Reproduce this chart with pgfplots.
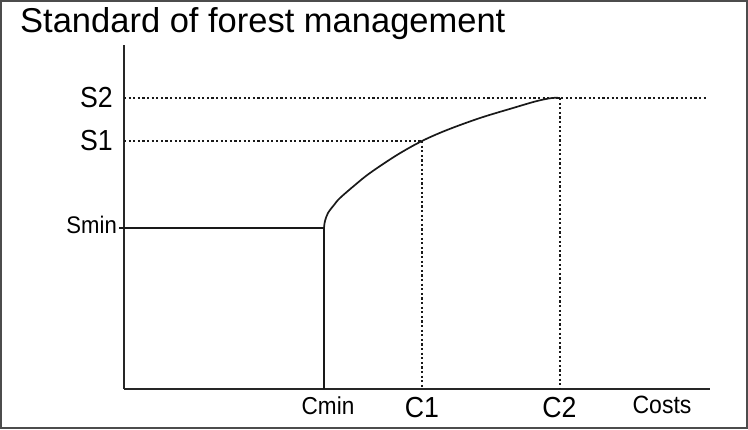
\documentclass[border=0pt]{standalone}
\usepackage{pgfplots}
\pgfplotsset{compat=1.18}
\usepackage{fontspec}
\setmainfont{Liberation Sans}
\newfontfamily\narrowfont{Liberation Sans}[FakeStretch=0.92]
\begin{document}
\begin{tikzpicture}[x=1pt,y=1pt]
\useasboundingbox (0,0) rectangle (748,429);
\draw[black!70, line width=1.6pt] (0.8,0.8) rectangle (747.2,428.2);
\node[anchor=base west, inner sep=0pt] at (20,396) {\fontsize{34.5}{34.5}\selectfont Standard of forest management};
\begin{axis}[
  at={(124pt,40pt)}, anchor=south west,
  scale only axis, width=586pt, height=344pt,
  xmin=124, xmax=710, ymin=40, ymax=384,
  axis x line=bottom, axis y line=left,
  axis line style={-, line width=1.5pt, black!85},
  ticks=none, clip=false,
]
% Smin level and Cmin vertical
\addplot[black!90, line width=1.4pt] coordinates {(119,201) (324,201) (324,40)};
% curve
\addplot[black!90, line width=1.7pt, smooth, tension=0.55] coordinates {
 (324,201) (325,208) (328,216) (334,224) (340,231) (355,244) (370,256) (397,274) (422,288)
 (447,299) (480,311) (513,321) (537,328) (552,331) (560,331)};
% dotted guides
\addplot[black!90, line width=1.4pt, dash pattern=on 2.2pt off 2.4pt] coordinates {(124,331) (707,331)};
\addplot[black!90, line width=1.4pt, dash pattern=on 2.2pt off 2.4pt] coordinates {(124,288) (422,288)};
\addplot[black!90, line width=1.4pt, dash pattern=on 2.2pt off 2.4pt] coordinates {(422,288) (422,40)};
\addplot[black!90, line width=1.4pt, dash pattern=on 2.2pt off 2.4pt] coordinates {(560,331) (560,40)};
\end{axis}
\node[anchor=base east, inner sep=0pt] at (113,321) {\narrowfont\fontsize{29}{29}\selectfont S2};
\node[anchor=base east, inner sep=0pt] at (113,278) {\narrowfont\fontsize{29}{29}\selectfont S1};
\node[anchor=base east, inner sep=0pt] at (117,195) {\narrowfont\fontsize{24}{24}\selectfont Smin};
\node[anchor=base, inner sep=0pt] at (328,14) {\narrowfont\fontsize{24.5}{24.5}\selectfont Cmin};
\node[anchor=base, inner sep=0pt] at (422,12) {\narrowfont\fontsize{29}{29}\selectfont C1};
\node[anchor=base, inner sep=0pt] at (559.5,12) {\narrowfont\fontsize{29}{29}\selectfont C2};
\node[anchor=base, inner sep=0pt] at (662,16) {\narrowfont\fontsize{25}{25}\selectfont Costs};
\end{tikzpicture}
\end{document}
